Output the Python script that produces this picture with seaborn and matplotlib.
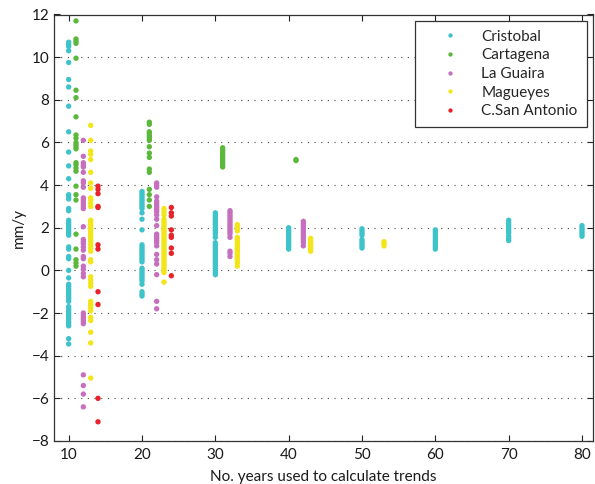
import numpy as np
import pandas as pd
import matplotlib
matplotlib.use("Agg")
import matplotlib.pyplot as plt
import seaborn as sns

# Sea-level trends (mm/y) computed from moving windows of N years, per tide gauge
cristobal = {
    10: [10.7, 10.6, 10.5, 10.3, 9.75, 8.95, 8.6, 7.7, 6.5, 5.55, 4.9, 4.3,
         3.55, 3.45, 3.35, 2.9, 2.8, 2.35, 2.25, 2.15, 2.05, 1.95, 1.85, 1.75,
         1.65, 1.1, 1.0, 0.65, 0.55, 0.0, -0.35, -0.65, -0.75, -0.85, -0.95,
         -1.05, -1.15, -1.25, -1.35, -1.45, -1.7, -1.8, -1.9, -2.0, -2.1, -2.2,
         -2.3, -2.4, -2.5, -2.6, -3.2, -3.45],
    20: [3.7, 3.6, 3.5, 3.4, 3.3, 3.2, 3.1, 3.0, 2.9, 2.7, 2.4, 1.9, 1.2, 1.1,
         1.0, 0.9, 0.8, 0.7, 0.6, 0.5, 0.4, 0.1, 0.0, -0.1, -0.2, -0.3, -0.4,
         -0.5, -0.65, -1.0, -1.1, -1.2],
    30: [2.7, 2.6, 2.5, 2.4, 2.3, 2.2, 2.1, 2.0, 1.9, 1.8, 1.7, 1.55, 1.3, 1.2,
         1.1, 1.0, 0.9, 0.8, 0.7, 0.6, 0.5, 0.4, 0.3, 0.2, 0.1, 0.0, -0.1, -0.2],
    40: [2.0, 1.9, 1.8, 1.7, 1.6, 1.5, 1.4, 1.3, 1.2, 1.1, 1.0],
    50: [1.95, 1.85, 1.75, 1.65, 1.45, 1.35, 1.25, 1.15, 1.05],
    60: [1.9, 1.8, 1.7, 1.6, 1.5, 1.4, 1.3, 1.2, 1.1, 1.0],
    70: [2.35, 2.25, 2.15, 2.05, 1.95, 1.85, 1.75, 1.6, 1.5, 1.4],
    80: [2.1, 2.0, 1.9, 1.8, 1.7, 1.6],
}
cartagena = {
    10: [11.7, 10.85, 10.75, 10.65, 9.95, 8.45, 8.1, 7.2, 6.35, 6.2, 6.0, 5.9,
         5.8, 5.7, 5.05, 4.95, 4.8, 4.65, 3.95, 3.55, 3.3, 1.7, 1.0, 0.5, 0.35,
         0.2],
    20: [6.95, 6.85, 6.5, 6.4, 6.3, 6.2, 6.1, 5.8, 5.5, 5.3, 4.75, 4.6, 3.8,
         3.55, 3.3, 3.0],
    30: [5.75, 5.65, 5.55, 5.45, 5.35, 5.25, 5.15, 5.05, 4.95, 4.85],
    40: [5.2, 5.15],
}
la_guaira = {
    10: [6.1, 5.35, 5.05, 4.95, 4.85, 4.6, 4.2, 4.1, 3.9, 3.4, 3.3, 3.2, 3.1,
         3.0, 2.9, 2.05, 1.45, 1.35, 1.25, 1.1, 0.95, 0.65, 0.55, 0.2, 0.05,
         -0.15, -0.3, -2.0, -2.1, -2.2, -2.3, -2.4, -2.5, -4.9, -5.4, -5.8,
         -6.4],
    20: [4.1, 4.0, 3.9, 3.45, 3.25, 3.15, 3.05, 2.95, 2.85, 2.75, 2.6, 2.4,
         2.1, 1.7, 1.6, 1.5, 1.4, 1.3, 1.15, 0.75, 0.5, 0.3, -0.2, -1.45, -1.8],
    30: [2.8, 2.7, 2.6, 2.5, 2.4, 2.3, 2.2, 2.1, 2.0, 1.9, 1.8, 1.7, 1.55, 0.9,
         0.8, 0.65],
    40: [2.3, 2.2, 2.1, 2.0, 1.9, 1.8, 1.7, 1.6, 1.5, 1.4, 1.3, 1.15],
}
magueyes = {
    10: [6.8, 6.1, 5.6, 5.45, 5.2, 4.6, 4.1, 3.85, 3.4, 3.3, 3.15, 3.0, 2.35,
         2.25, 2.15, 2.05, 1.95, 1.85, 1.75, 1.65, 1.55, 1.45, 1.35, 1.2, 1.05,
         0.9, 0.5, 0.4, -0.3, -0.45, -0.6, -0.75, -1.45, -1.55, -1.65, -1.75,
         -1.9, -2.2, -2.35, -2.9, -3.4, -5.05],
    20: [2.9, 2.75, 2.6, 2.4, 2.3, 2.2, 2.1, 2.0, 1.9, 1.8, 1.7, 1.6, 1.5, 1.4,
         1.3, 1.2, 1.1, 1.0, 0.9, 0.8, 0.7, 0.6, 0.5, 0.4, 0.3, 0.2, 0.1, 0.0,
         -0.1, -0.55],
    30: [2.15, 2.05, 1.95, 1.85, 1.55, 1.45, 1.35, 1.25, 1.15, 1.05, 0.95,
         0.85, 0.75, 0.65, 0.55, 0.45, 0.35, 0.2],
    40: [1.5, 1.4, 1.3, 1.2, 1.1, 1.0, 0.9],
    50: [1.35, 1.25, 1.15],
}
san_antonio = {
    10: [3.95, 3.8, 3.6, 3.0, 2.95, 1.2, 1.0, -1.0, -1.6, -6.0, -7.1],
    20: [2.95, 2.7, 2.55, 1.9, 1.65, 1.55, 1.05, 0.8, -0.25],
}

stations = ["Cristobal", "Cartagena", "La Guaira", "Magueyes", "C.San Antonio"]
station_data = [cristobal, cartagena, la_guaira, magueyes, san_antonio]
colors = ["#3ec3cb", "#5cb83a", "#c76fbf", "#f2e51a", "#e8212b"]
x_ticks = [10, 20, 30, 40, 50, 60, 70, 80]
y_ticks = [-8, -6, -4, -2, 0, 2, 4, 6, 8, 10, 12]

# each station is drawn one year to the right of the previous one
shift = {name: i for i, name in enumerate(stations)}

rows = []
for name, table in zip(stations, station_data):
    for years, trends in table.items():
        for t in trends:
            rows.append({"station": name, "years": years + shift[name], "trend": t})
df = pd.DataFrame(rows)

sns.set_theme(style="ticks")
plt.rcParams["font.family"] = ["Lato", "DejaVu Sans"]
plt.rcParams["axes.unicode_minus"] = True

fig = plt.figure(figsize=(5.95, 4.84), dpi=100)
ax = fig.add_axes([54 / 595, 1 - 441 / 484, (593 - 54) / 595, (441 - 14.5) / 484])

for y in y_ticks:
    ax.axhline(y, color="#444444", lw=0.8, ls=(0, (1, 5)), zorder=0)

sns.scatterplot(data=df, x="years", y="trend", hue="station", hue_order=stations,
                palette=colors, s=15, marker="o", linewidth=0, ax=ax, zorder=3)

ax.set_xlim(8, 81.5)
ax.set_ylim(-8, 12)
ax.set_xticks(x_ticks)
ax.set_yticks(y_ticks)
ax.tick_params(direction="in", top=True, right=True, length=4, width=0.8,
               colors="#222222", labelsize=11, labelcolor="#1a1a1a")
ax.tick_params(axis="x", pad=5)
for sp in ax.spines.values():
    sp.set_color("#333333")
    sp.set_linewidth(0.9)

ax.set_xlabel("No. years used to calculate trends", fontsize=11, labelpad=6, color="#1a1a1a")
ax.set_ylabel("mm/y", fontsize=11, labelpad=4, color="#1a1a1a")

handles, labels = ax.get_legend_handles_labels()
leg = ax.legend(handles, labels, loc="upper right", fontsize=11, frameon=True,
                fancybox=False, edgecolor="#333333", framealpha=1,
                borderaxespad=0.4, handlelength=3.4, handletextpad=0.35,
                labelspacing=0.3, borderpad=0.6, markerscale=0.8)
leg.get_frame().set_linewidth(0.9)

fig.savefig("out.png", dpi=100)
